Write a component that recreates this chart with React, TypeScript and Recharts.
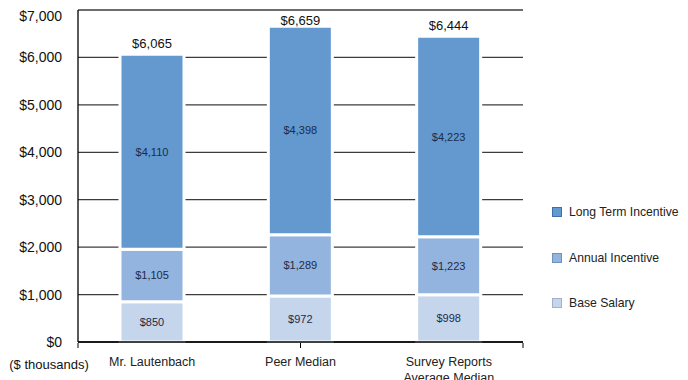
import React from 'react';
import {
  Bar,
  BarChart,
  CartesianGrid,
  LabelList,
  Legend,
  XAxis,
  YAxis,
  Label,
} from 'recharts';

const categories = ['Mr. Lautenbach', 'Peer Median', 'Survey Reports\nAverage Median'];
const baseSalary = [850, 972, 998];
const annualIncentive = [1105, 1289, 1223];
const longTermIncentive = [4110, 4398, 4223];
const yTicks = [0, 1000, 2000, 3000, 4000, 5000, 6000, 7000];
// the original axis has its small tick marks on a separate 8-step scale
const markTicksY = [0, 1, 2, 3, 4, 5, 6, 7, 8];
const markTicksX = [0, 1, 2, 3];

const seriesNames = ['Base Salary', 'Annual Incentive', 'Long Term Incentive'];
const colors = ['#c5d5ec', '#93b4de', '#6399cf'];
const borderColors = ['#9fb3d0', '#6f8fbd', '#3f6fa8'];

const data = categories.map((name, i) => ({
  name,
  base: baseSalary[i],
  annual: annualIncentive[i],
  lti: longTermIncentive[i],
  total: baseSalary[i] + annualIncentive[i] + longTermIncentive[i],
}));

const money = (v: number) => '$' + v.toLocaleString('en-US');
const blank = () => '';

const FONT = '"Liberation Sans", Arial, Helvetica, sans-serif';

const CategoryTick = (props: any) => {
  const { x, y, payload } = props;
  const lines = String(payload.value).split('\n');
  return (
    <g>
      {lines.map((line, i) => (
        <text
          key={i}
          x={x}
          y={y + 12 + i * 16}
          textAnchor="middle"
          dominantBaseline="central"
          fontSize={12.5}
          fontFamily={FONT}
          fill="#222"
        >
          {line}
        </text>
      ))}
    </g>
  );
};

const innerLabel = (props: any) => {
  const { x, y, width, height, value } = props;
  return (
    <text
      x={x + width / 2}
      y={y + height / 2}
      textAnchor="middle"
      dominantBaseline="central"
      fontSize={11}
      fontFamily={FONT}
      fill="#1c2b4a"
    >
      {money(value)}
    </text>
  );
};

const totalLabel = (props: any) => {
  const { x, y, width, index } = props;
  return (
    <text
      x={x + width / 2}
      y={Math.max(y - 11, 12)}
      textAnchor="middle"
      dominantBaseline="central"
      fontSize={13}
      fontFamily={FONT}
      fill="#111"
    >
      {money(data[index].total)}
    </text>
  );
};

const LegendBox = () => {
  // legend is listed top to bottom in reverse stacking order
  const order = [2, 1, 0];
  return (
    <div style={{ fontFamily: FONT, fontSize: 12.2, color: '#222', whiteSpace: 'nowrap' }}>
      {order.map((k, i) => (
        <div
          key={k}
          style={{ display: 'flex', alignItems: 'center', height: 16, marginBottom: i < 2 ? 29.5 : 0 }}
        >
          <svg width={10} height={10} style={{ marginRight: 7 }}>
            <rect x={0.5} y={0.5} width={9} height={9} fill={colors[k]} stroke={borderColors[k]} />
          </svg>
          <span>{seriesNames[k]}</span>
        </div>
      ))}
    </div>
  );
};

export default function App() {
  return (
    <BarChart
      width={680}
      height={372}
      data={data}
      margin={{ top: 2, right: 165, bottom: 0, left: 0 }}
      barSize={64}
      style={{ overflow: 'visible' }}
    >
      <CartesianGrid vertical={false} stroke="#3c3c3c" strokeWidth={1.3} />
      <XAxis
        dataKey="name"
        height={1}
        tickLine={false}
        axisLine={{ stroke: '#000', strokeWidth: 1.3 }}
        tick={<CategoryTick />}
        interval={0}
      />
      <XAxis
        xAxisId="marks"
        type="number"
        domain={[0, 3]}
        ticks={markTicksX}
        tickFormatter={blank}
        height={37}
        axisLine={false}
        tickSize={5}
        tickLine={{ stroke: '#000' }}
      />
      <YAxis
        domain={[0, 7000]}
        ticks={yTicks}
        width={1}
        tickLine={false}
        tickSize={8}
        tickMargin={8}
        axisLine={{ stroke: '#000', strokeWidth: 1.3 }}
        tickFormatter={money}
        tick={{ fontSize: 14, fontFamily: FONT, fill: '#111' }}
      >
        <Label
          content={(p: any) => (
            <text
              x={41}
              y={p.viewBox.y + p.viewBox.height + 22}
              textAnchor="middle"
              dominantBaseline="central"
              fontSize={13}
              fontFamily={FONT}
              fill="#111"
            >
              ($ thousands)
            </text>
          )}
        />
      </YAxis>
      <YAxis
        yAxisId="marks"
        type="number"
        domain={[0, 8]}
        ticks={markTicksY}
        tickFormatter={blank}
        width={69}
        axisLine={false}
        tickSize={5}
        tickLine={{ stroke: '#000' }}
      />
      <Legend
        layout="vertical"
        align="center"
        verticalAlign="middle"
        content={() => <LegendBox />}
        wrapperStyle={{ position: 'absolute', left: 544, top: 196, width: 136 }}
      />
      <Bar dataKey="base" name={seriesNames[0]} stackId="a" fill={colors[0]} stroke="#fff" strokeWidth={3} isAnimationActive={false}>
        <LabelList dataKey="base" content={innerLabel} />
      </Bar>
      <Bar dataKey="annual" name={seriesNames[1]} stackId="a" fill={colors[1]} stroke="#fff" strokeWidth={3} isAnimationActive={false}>
        <LabelList dataKey="annual" content={innerLabel} />
      </Bar>
      <Bar dataKey="lti" name={seriesNames[2]} stackId="a" fill={colors[2]} stroke="#fff" strokeWidth={3} isAnimationActive={false}>
        <LabelList dataKey="lti" content={innerLabel} />
        <LabelList dataKey="total" content={totalLabel} />
      </Bar>
    </BarChart>
  );
}
